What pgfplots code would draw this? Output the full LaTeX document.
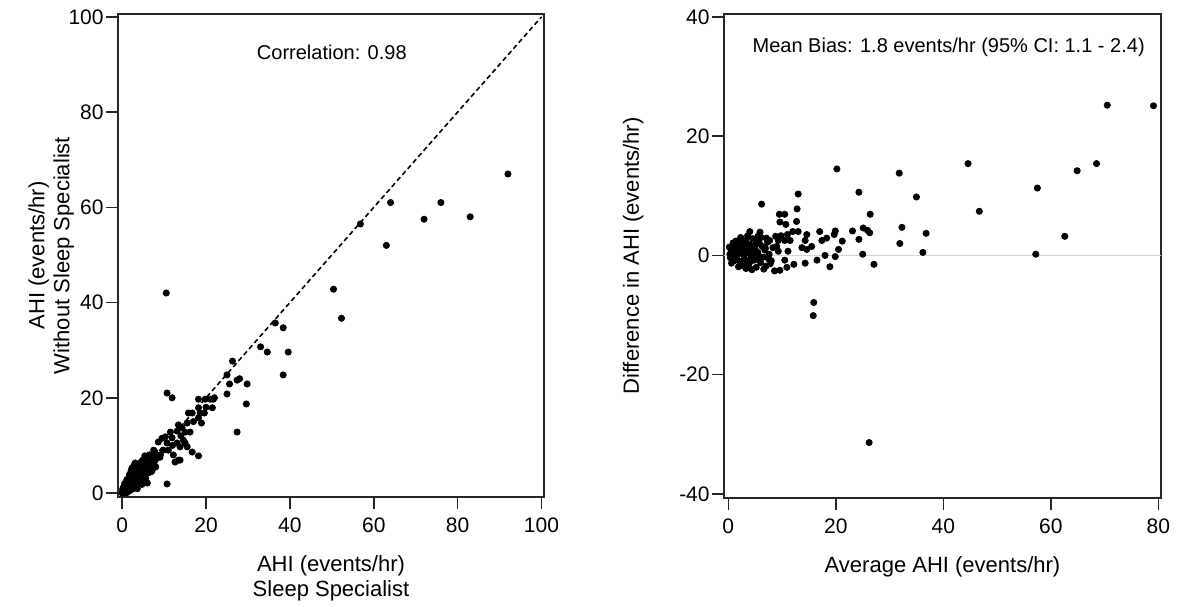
\documentclass[border=0pt]{standalone}
\usepackage{fontspec}
\setmainfont{Liberation Sans}
\usepackage{pgfplots}
\pgfplotsset{compat=1.18}
\usepackage{pgfplotstable}

% specialist vs without specialist
\pgfplotstableread{
s w
92 67
83 58
76 61
72 57.5
64 61
63 52
56.8 56.5
50.4 42.8
52.3 36.7
38.4 34.7
36.5 35.7
39.6 29.6
33 30.7
34.6 29.6
38.4 24.8
26.3 27.7
25 24.8
25.6 22.9
27.4 23.7
28 24
29.8 22.9
25 20.8
29.6 18.7
27.4 12.8
10.5 42
10.7 21
11.9 20
18.2 19.7
19.8 19.7
21 19.7
21.7 19.7
21.5 17.9
18.2 17.9
18.6 16.8
16.7 16.8
15.8 16.8
19.6 16.8
15.5 14.7
18.2 15.8
18.9 14.7
14.3 13.7
15 12.8
16.2 12.8
14.6 11.1
15.5 9.7
16.7 8.6
18.2 7.8
13.8 6.9
13.4 14.3
13.1 13
11.5 12.8
10.3 11.8
8.6 10.7
11.9 11.6
10.7 10.5
13.1 10.5
13.8 9.7
15 10.5
12.2 8
13.4 6.9
12.6 6.5
9.8 9
9.1 8
7.9 6.9
6.7 6.9
6 5.9
6.7 5.3
6 2.1
10.7 1.9
8 8
9 7.5
11 9
12 10
14 12
17 15
20 18
22 20
9.5 11.5
7.5 9
8 5.5
5 7
4 6
0 0
0.2 0.5
0.5 0.3
0.8 1
1 0.5
1.2 1.5
1.5 1
0.3 1.2
0.6 2
1 2.2
1.8 1.6
2 2
2.2 1.2
2.5 2.5
2.8 1.8
3 3
3.2 2.2
1.5 3
2 3.5
2.5 4
3 4.5
3.5 3.5
3.8 2.8
4 4
4.2 3.2
4.5 5
4.8 4.2
5 5.5
5.2 3.8
5.5 4.5
5.8 6
6 5
3.5 5.5
2.8 5.8
4 6
4.5 2.5
3 1.5
1.8 0.5
0.4 0
1.2 0.1
2.4 0.8
0.9 1.8
1.6 2.6
2.1 4.6
3.3 3.9
4.1 5.3
5.1 6.2
6.4 6.6
6.9 5.8
7.2 7
7.5 6.2
5.6 3.1
4.7 1.8
3.6 0.9
0.1 0.8
0.7 0.6
1.4 1.3
2.6 3.1
3.9 4.8
4.4 3.7
5.3 4.9
6.2 4.2
7 4.5
8.5 7.8
6.5 8
5.5 7
3.6 1.9
0.5 1.6
1.1 2.8
1.7 3.8
2.3 5.2
3.1 6.3
4.6 6.6
5.4 7.8
6.1 7.1
7.8 8.6
2.9 2.4
3.4 2.7
4.3 4.6
5.7 5.3
6.6 6.1
7.3 5.1
0.6 0.1
1.4 0.6
2.7 1.1
3.9 2.1
5 3.2
5.9 4.4
2.1 2.8
1.3 2.2
0.2 0.2
4.9 6.1
3.7 4.2
}\agree

% average vs difference
\pgfplotstableread{
m d
79.1 25.1
70.5 25.2
68.5 15.4
64.9 14.2
57.5 11.3
57.2 0.2
62.6 3.2
46.7 7.4
44.6 15.4
36.8 3.7
36.2 0.5
35 9.8
31.8 13.8
32.3 4.7
31.9 2
27.1 -1.5
26.4 6.9
25 0.2
24.3 2.7
24.3 10.6
25.9 4.2
26.3 3.8
25.1 4.6
23.1 4.1
26.2 -31.4
20.2 14.5
19.9 4.1
21.2 2.4
20.5 1
19.9 -0.2
18.9 -1.9
19.7 3.5
18.3 2.9
17.4 2.5
17 4
16.5 -0.8
18 0
15.9 -7.9
15.8 -10.1
15.5 1.5
14.6 1
13.7 1.3
14.6 3.5
14.3 2.5
14.3 -1.3
13 10.3
12.8 7.8
12.7 5.7
13 4
12 4
12.2 -1.5
11.5 2.5
11.1 0.7
10.9 -2
10.5 -0.8
10.5 2.5
10.7 5.2
10.5 6.9
9.6 5.6
9.5 6.9
9.6 -2.5
9.3 0.7
9.3 2.5
7.7 2.5
7.1 2.9
6.2 8.6
5.9 3.9
5.5 3.2
4 4
0.3 0.2
0.5 1
0.8 -0.5
1 0.5
1.2 1.5
1.5 -0.3
1.8 0.8
2 2
2.2 -1
2.5 0.3
2.8 1.2
3 -0.5
3.2 2.5
3.5 0.8
3.8 -1.5
4 1.8
4.2 0
4.5 2.8
4.8 -0.8
5 1
5.2 -2
5.5 0.5
5.8 2
6 -1.2
6.3 1.5
6.5 -0.3
6.8 0.9
7 -1.8
7.3 2.2
7.6 0.2
8 -0.9
8.3 1.3
0.6 -1.3
1.4 2.4
2.3 3
3.3 -2.2
1.1 -0.9
1.7 1.7
2.6 -1.7
3.6 3.3
0.2 1.4
0.9 2.1
4.4 -2.4
5.4 2.6
6.1 3
0.4 -0.4
1.3 0.1
2.1 0.6
2.9 0
3.9 0.4
4.6 1.1
5.6 -0.6
6.6 -2.3
7.8 -1.4
8.6 -2.6
1.9 -1.9
2.4 1.6
3.1 1.9
4.1 -1
4.9 0.3
0.7 0.7
1.6 1.1
2.7 2.2
3.4 -0.9
4.3 0.9
5.1 1.8
5.9 -0.2
6.9 1.2
7.5 -0.6
9 1.5
8.8 3.2
9.8 3.3
11 3.5
}\bland

\pgfplotsset{
  rplot/.style={
    scale only axis, anchor=south west,
    axis line style={line width=0.75pt, black!85},
    tick style={line width=0.75pt, black!85},
    tick align=outside, tick pos=left,
    major tick length=6pt,
    tick label style={font=\fontsize{10.5}{12}\selectfont, inner sep=1pt},
    xticklabel style={yshift=-3pt},
    /pgf/number format/assume math mode=true,
    label style={font=\fontsize{11}{12.5}\selectfont, align=center},
    xlabel style={at={(axis description cs:0.5,0)}, anchor=north, yshift=-25.5pt},
  },
  dots/.style={only marks, mark=*, mark size=1.55pt, draw=black, fill=black},
}

\begin{document}
\begin{tikzpicture}
\useasboundingbox (0pt,0pt) rectangle (588.5pt,303pt);

\begin{axis}[rplot, at={(59pt,54.5pt)}, width=213pt, height=241.5pt,
  xmin=-1, xmax=100.6, ymin=-0.84, ymax=100.6,
  xtick={0,20,...,100}, ytick={0,20,...,100},
  xlabel={AHI (events/hr)\\Sleep Specialist},
  ylabel={AHI (events/hr)\\Without Sleep Specialist},
  ylabel style={at={(axis description cs:-0.157,0.5)}, anchor=center},
]
\addplot[no marks, black, line width=0.8pt, dash pattern=on 2.4pt off 1.6pt] coordinates {(0,0) (100,100)};
\addplot[dots] table[x=s, y=w] {\agree};
\node[font=\fontsize{10}{12}\selectfont] at (axis cs:50,92.6) {Correlation: 0.98};
\end{axis}

\begin{axis}[rplot, at={(362pt,54pt)}, width=218.5pt, height=242pt,
  xmin=-0.8, xmax=80.5, ymin=-40.7, ymax=40.5,
  xtick={0,20,...,80}, ytick={-40,-20,...,40},
  xlabel={Average AHI (events/hr)},
  ylabel={Difference in AHI (events/hr)},
  ylabel style={at={(axis description cs:-0.208,0.5)}, anchor=center},
]
\addplot[no marks, gray!35, line width=0.7pt] coordinates {(-0.8,0) (80.5,0)};
\addplot[dots] table[x=m, y=d] {\bland};
\node[font=\fontsize{10}{12}\selectfont] at (axis cs:41,34.9) {Mean Bias: 1.8 events/hr (95\% CI: 1.1 - 2.4)};
\end{axis}
\end{tikzpicture}
\end{document}
